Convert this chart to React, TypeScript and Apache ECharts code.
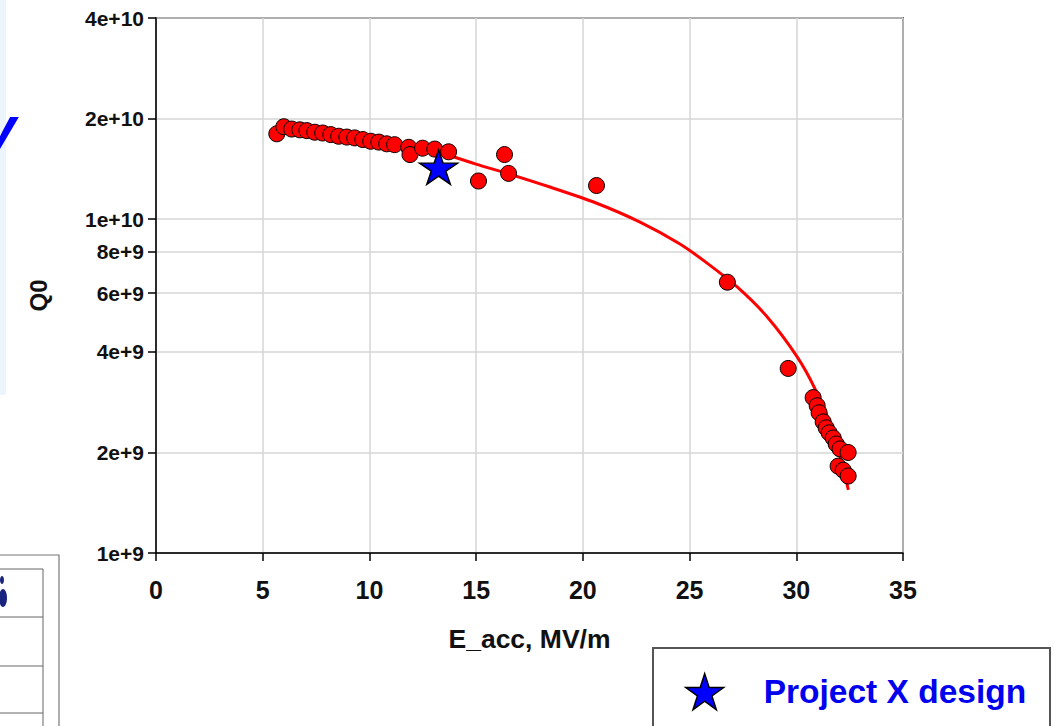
import React, { useEffect, useRef } from "react";
import * as echarts from "echarts";

// Measured cavity data: accelerating gradient (MV/m) and Q0
const measuredE = [5.66, 5.99, 6.36, 6.74, 7.07, 7.44, 7.81, 8.19, 8.56, 8.94, 9.31, 9.69, 10.06, 10.44, 10.81, 11.18, 11.84, 11.9, 12.49, 13.06, 13.71, 15.11, 16.33, 16.52, 20.64, 26.77, 29.62, 30.79, 30.98, 31.07, 31.26, 31.4, 31.54, 31.73, 31.87, 32.05, 32.43, 31.96, 32.2, 32.43];
const measuredQ0 = [1.8e10, 1.89e10, 1.86e10, 1.85e10, 1.84e10, 1.82e10, 1.81e10, 1.79e10, 1.77e10, 1.76e10, 1.75e10, 1.73e10, 1.71e10, 1.7e10, 1.68e10, 1.67e10, 1.64e10, 1.56e10, 1.63e10, 1.62e10, 1.59e10, 1.3e10, 1.56e10, 1.37e10, 1.26e10, 6.47e9, 3.57e9, 2.92e9, 2.76e9, 2.63e9, 2.47e9, 2.37e9, 2.29e9, 2.21e9, 2.12e9, 2.05e9, 2.0e9, 1.82e9, 1.77e9, 1.7e9];

// Fit curve
const fitE = [13.68, 14.99, 16.49, 18.46, 20.62, 22.68, 24.55, 25.82, 27.23, 28.64, 30.05, 30.9, 31.74, 32.44];
const fitQ0 = [1.555e10, 1.461e10, 1.368e10, 1.247e10, 1.117e10, 9.79e9, 8.42e9, 7.38e9, 6.26e9, 5.09e9, 3.86e9, 3.08e9, 2.29e9, 1.545e9];

// Project X design point
const designE = [13.24];
const designQ0 = [1.43e10];

const yTickValues = [1e9, 2e9, 4e9, 6e9, 8e9, 1e10, 2e10, 4e10];
const legendLabel = "Project X design";

const STAR = "path://M100,0 L122.45,69.1 L195.11,69.1 L136.33,111.8 L158.78,180.9 L100,138.2 L41.22,180.9 L63.67,111.8 L4.89,69.1 L77.55,69.1 Z";
const FONT = "'Liberation Sans', Arial, sans-serif";

function sci(v: number): string {
  const exp = Math.floor(Math.log10(v) + 1e-9);
  const m = Math.round(v / Math.pow(10, exp));
  return `${m}e+${exp}`;
}

export default function App() {
  const ref = useRef<HTMLDivElement>(null);
  useEffect(() => {
    if (!ref.current) return;
    const chart = echarts.init(ref.current, undefined, { renderer: "svg" });
    const measured = measuredE.map((e, i) => [e, measuredQ0[i]]);
    const fit = fitE.map((e, i) => [e, fitQ0[i]]);
    const design = designE.map((e, i) => [e, designQ0[i]]);
    chart.setOption({
      animation: false,
      backgroundColor: "#ffffff",
      textStyle: { fontFamily: FONT },
      grid: {
        left: 156, top: 18, right: 151, bottom: 173,
        show: true, borderColor: "#000", borderWidth: 1.5, backgroundColor: "transparent",
      },
      legend: {
        data: [{ name: legendLabel, icon: STAR }],
        left: 680, top: 668,
        itemWidth: 38, itemHeight: 36, itemGap: 10,
        textStyle: { color: "#0000ee", fontWeight: "bold", fontSize: 33.5, fontFamily: FONT, padding: [0, 0, 0, 35] },
        itemStyle: { color: "#0000ff", borderColor: "#000", borderWidth: 1.5 },
      },
      xAxis: {
        type: "value", min: 0, max: 35, interval: 5,
        name: "E_acc, MV/m", nameLocation: "middle", nameGap: 72,
        nameTextStyle: { fontSize: 26.5, fontWeight: "bold", color: "#111", fontFamily: FONT },
        axisLine: { onZero: false, lineStyle: { color: "#000", width: 1.5 } },
        axisTick: { show: true, length: 8, lineStyle: { color: "#000", width: 1.5 } },
        axisLabel: { margin: 24, fontSize: 25, fontWeight: "bold", color: "#111", fontFamily: FONT },
        splitLine: { show: true, lineStyle: { color: "#d6d6d6", width: 1.5 } },
      },
      yAxis: {
        type: "log", logBase: 10, min: 1e9, max: 4e10,
        name: "Q0", nameLocation: "middle", nameGap: 106, nameRotate: 90,
        nameTextStyle: { fontSize: 24, fontWeight: "bold", color: "#111", fontFamily: FONT, padding: [0, 20, 0, 0] },
        axisLine: { onZero: false, lineStyle: { color: "#000", width: 1.5 } },
        axisTick: { show: true, length: 8, customValues: yTickValues, lineStyle: { color: "#000", width: 1.5 } },
        axisLabel: { margin: 12, fontSize: 21, fontWeight: "bold", color: "#111", fontFamily: FONT, customValues: yTickValues, formatter: (v: number) => sci(v) },
        splitLine: { show: true, lineStyle: { color: "#d6d6d6", width: 1.5 } },
        minorTick: { show: false },
      },
      series: [
        {
          name: "fit", type: "line", data: fit, smooth: 0.3, showSymbol: false, symbol: "none",
          lineStyle: { color: "#ff0000", width: 3 }, z: 2,
        },
        {
          name: "measured", type: "scatter", data: measured, symbol: "circle", symbolSize: 16,
          itemStyle: { color: "#ff0000", borderColor: "#000", borderWidth: 1, opacity: 1 }, z: 3,
        },
        {
          name: legendLabel, type: "scatter", data: design, symbol: STAR, symbolKeepAspect: true,
          symbolSize: [38, 36],
          itemStyle: { color: "#0000ff", borderColor: "#000", borderWidth: 1.5, opacity: 1 }, z: 4,
        },
      ],
      graphic: [
        { type: "rect", shape: { x: 0, y: 0, width: 6, height: 395 }, style: { fill: "#edf5fc" }, silent: true },
        { type: "text", x: -17, y: 97, style: { text: "y", font: `italic bold 60px ${FONT}`, fill: "#0000ff", textVerticalAlign: "top" }, silent: true },
        { type: "rect", shape: { x: -5, y: 555, width: 64, height: 200 }, style: { fill: "#fff", stroke: "#777", lineWidth: 1.2 }, silent: true },
        { type: "line", shape: { x1: 0, y1: 569, x2: 43, y2: 569 }, style: { stroke: "#666", lineWidth: 1 }, silent: true },
        { type: "line", shape: { x1: 43, y1: 569, x2: 43, y2: 726 }, style: { stroke: "#666", lineWidth: 1 }, silent: true },
        { type: "line", shape: { x1: 0, y1: 617, x2: 43, y2: 617 }, style: { stroke: "#666", lineWidth: 1 }, silent: true },
        { type: "line", shape: { x1: 0, y1: 666, x2: 43, y2: 666 }, style: { stroke: "#666", lineWidth: 1 }, silent: true },
        { type: "line", shape: { x1: 0, y1: 713, x2: 43, y2: 713 }, style: { stroke: "#666", lineWidth: 1 }, silent: true },
        { type: "ellipse", shape: { cx: 3, cy: 598, rx: 4, ry: 9 }, style: { fill: "#1a237e" }, silent: true },
        { type: "ellipse", shape: { cx: 2, cy: 580, rx: 2, ry: 4 }, style: { fill: "#1a237e" }, silent: true },
        { type: "rect", shape: { x: 653, y: 648, width: 397, height: 90 }, style: { fill: "transparent", stroke: "#555", lineWidth: 2 }, silent: true, z: -1 },
      ],
    });
    return () => chart.dispose();
  }, []);
  return <div ref={ref} style={{ position: "fixed", left: 0, top: 0, width: 1054, height: 726 }} />;
}
